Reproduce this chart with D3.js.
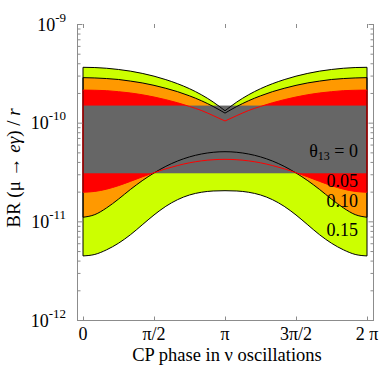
<!DOCTYPE html>
<html><head><meta charset="utf-8">
<script src="https://cdn.jsdelivr.net/npm/d3@7"></script>
<style>
html,body{margin:0;padding:0;background:#fff;}
svg{display:block;}
text{font-family:"Liberation Serif","Times New Roman",Times,serif;fill:#000;}
</style>
</head><body>
<svg id="c" width="382" height="382"></svg>
<script>
// CP phase (degrees) at which the curves were read
const phaseDeg = [0,15,30,45,60,75,90,105,120,135,150,165,180,195,210,225,240,255,270,285,300,315,330,345,360];

// theta13 = 0.15 band (yellow)
const upper015 = [3.64e-10,3.62e-10,3.56e-10,3.46e-10,3.33e-10,3.16e-10,2.96e-10,2.73e-10,2.48e-10,2.21e-10,1.92e-10,1.62e-10,1.32e-10,1.62e-10,1.92e-10,2.21e-10,2.48e-10,2.73e-10,2.96e-10,3.16e-10,3.33e-10,3.46e-10,3.56e-10,3.62e-10,3.64e-10];
const lower015 = [4.46e-12,4.62e-12,5.15e-12,6.0e-12,7.3e-12,9.2e-12,1.16e-11,1.42e-11,1.66e-11,1.85e-11,1.97e-11,2.03e-11,2.044e-11,2.03e-11,1.97e-11,1.85e-11,1.66e-11,1.42e-11,1.16e-11,9.2e-12,7.3e-12,6.0e-12,5.15e-12,4.62e-12,4.46e-12];
// theta13 = 0.10 band (orange)
const upper010 = [2.86e-10,2.84e-10,2.80e-10,2.74e-10,2.64e-10,2.53e-10,2.39e-10,2.23e-10,2.06e-10,1.87e-10,1.67e-10,1.46e-10,1.25e-10,1.46e-10,1.67e-10,1.87e-10,2.06e-10,2.23e-10,2.39e-10,2.53e-10,2.64e-10,2.74e-10,2.80e-10,2.84e-10,2.86e-10];
const lower010 = [1.10e-11,1.17e-11,1.37e-11,1.68e-11,2.10e-11,2.58e-11,3.09e-11,3.61e-11,4.09e-11,4.50e-11,4.81e-11,5.01e-11,5.08e-11,5.01e-11,4.81e-11,4.50e-11,4.09e-11,3.61e-11,3.09e-11,2.58e-11,2.10e-11,1.68e-11,1.37e-11,1.17e-11,1.10e-11];
// theta13 = 0.05 band (red)
const upper005 = [2.14e-10,2.13e-10,2.11e-10,2.06e-10,2.00e-10,1.92e-10,1.82e-10,1.71e-10,1.59e-10,1.46e-10,1.33e-10,1.18e-10,1.04e-10,1.18e-10,1.33e-10,1.46e-10,1.59e-10,1.71e-10,1.82e-10,1.92e-10,2.00e-10,2.06e-10,2.11e-10,2.13e-10,2.14e-10];
const lower005 = [1.97e-11,2.01e-11,2.12e-11,2.30e-11,2.54e-11,2.82e-11,3.11e-11,3.41e-11,3.68e-11,3.92e-11,4.10e-11,4.21e-11,4.25e-11,4.21e-11,4.10e-11,3.92e-11,3.68e-11,3.41e-11,3.11e-11,2.82e-11,2.54e-11,2.30e-11,2.12e-11,2.01e-11,1.97e-11];
// theta13 = 0 band (gray, phase independent)
const band0 = [3.07e-11, 1.49e-10];

const bandLabels = ["0.05","0.10","0.15"];
const bandLabelValues = [2.6e-11, 1.63e-11, 8.26e-12];
const band0LabelValue = 5.2e-11;
const xTickValues = [0, Math.PI/2, Math.PI, 3*Math.PI/2, 2*Math.PI];
const xTickLabels = ["0","\u03c0/2","\u03c0","3\u03c0/2","2 \u03c0"];
const yMajor = [1e-12,1e-11,1e-10,1e-9];
const yExponents = ["-12","-11","-10","-9"];

const svg = d3.select("#c");
const L = 77, R = 373, T = 24, B = 320;
const x = d3.scaleLinear().domain([0, 2*Math.PI]).range([83, 367]);
const y = d3.scaleLog().domain([1e-12, 1e-9]).range([B, T]);
const axisCol = "#8c8c8c";

function bandPath(lo, hi) {
  const pts = phaseDeg.map((d,i)=>({x: x(d*Math.PI/180), lo: y(lo[i]), hi: y(hi[i])}));
  const lower = d3.line().x(p=>p.x).y(p=>p.lo).curve(d3.curveMonotoneX)(pts);
  const rev = pts.slice().reverse();
  const mid = Math.floor(rev.length/2);
  const up = d3.line().x(p=>p.x).y(p=>p.hi).curve(d3.curveMonotoneX);
  const a = up(rev.slice(0, mid+1));
  const b = up(rev.slice(mid));
  return lower + "L" + a.slice(1) + "L" + b.slice(1) + "Z";
}

const bands = [
  {lo: lower015, hi: upper015, fill: "#ccff00", stroke: "#000"},
  {lo: lower010, hi: upper010, fill: "#ff9900", stroke: "#000"},
  {lo: lower005, hi: upper005, fill: "#ff0000", stroke: "#ff0000"}
];
bands.forEach(b => {
  svg.append("path").attr("d", bandPath(b.lo, b.hi)).attr("fill", b.fill).attr("stroke", "none");
});
svg.append("rect")
  .attr("x", x(0)).attr("width", x(2*Math.PI) - x(0))
  .attr("y", y(band0[1])).attr("height", y(band0[0]) - y(band0[1]))
  .attr("fill", "#666666");
bands.forEach(b => {
  svg.append("path").attr("d", bandPath(b.lo, b.hi)).attr("fill", "none")
    .attr("stroke", b.stroke).attr("stroke-width", 1).attr("stroke-linejoin", "round");
});

// frame
const frame = svg.append("g").attr("stroke", axisCol).attr("stroke-width", 1).attr("fill", "none");
frame.append("line").attr("x1", L+0.5).attr("x2", L+0.5).attr("y1", T).attr("y2", B);
frame.append("line").attr("x1", R+0.5).attr("x2", R+0.5).attr("y1", T).attr("y2", B);
frame.append("line").attr("x1", L).attr("x2", R+1).attr("y1", B+0.5).attr("y2", B+0.5);

// ticks via axes
function styleAxis(g) { g.select(".domain").remove(); g.selectAll("line").attr("stroke", axisCol); g.selectAll("text").remove(); }
const yMinor = y.ticks().filter(v => !yMajor.some(m => Math.abs(m - v) / m < 1e-6));
svg.append("g").attr("transform", `translate(${L+0.5},0)`)
  .call(d3.axisLeft(y).tickValues(yMajor).tickSizeInner(-5).tickSizeOuter(0)).call(styleAxis);
svg.append("g").attr("transform", `translate(${L+0.5},0)`)
  .call(d3.axisLeft(y).tickValues(yMinor).tickSizeInner(-3).tickSizeOuter(0)).call(styleAxis);
svg.append("g").attr("transform", `translate(${R+0.5},0)`)
  .call(d3.axisRight(y).tickValues(yMajor).tickSizeInner(-5).tickSizeOuter(0)).call(styleAxis);
svg.append("g").attr("transform", `translate(${R+0.5},0)`)
  .call(d3.axisRight(y).tickValues(yMinor).tickSizeInner(-3).tickSizeOuter(0)).call(styleAxis);
svg.append("g").attr("transform", `translate(0,${B+0.5})`)
  .call(d3.axisBottom(x).tickValues(xTickValues).tickSizeInner(-4).tickSizeOuter(0)).call(styleAxis);
svg.append("g").attr("transform", `translate(0,${T})`)
  .call(d3.axisTop(x).tickValues(xTickValues).tickSizeInner(-4).tickSizeOuter(0)).call(styleAxis);

// x tick labels
svg.append("g").selectAll("text").data(xTickValues).join("text")
  .attr("x", d => x(d)).attr("y", 340).attr("text-anchor", "middle")
  .attr("font-size", 18).text((d,i) => xTickLabels[i]);

// y tick labels
yMajor.forEach((v,i) => {
  const t = svg.append("text").attr("x", 66).attr("y", y(v) + 6.5)
    .attr("text-anchor", "end").attr("font-size", 18);
  t.append("tspan").text("10");
  t.append("tspan").attr("dy", -9).attr("font-size", 13).text(yExponents[i]);
});

// axis titles
svg.append("text").attr("x", 227).attr("y", 361).attr("text-anchor", "middle")
  .attr("font-size", 18.5).text("CP phase in \u03bd oscillations");
const yt = svg.append("text").attr("transform", "translate(20,168) rotate(-90)")
  .attr("text-anchor", "middle").attr("font-size", 19);
yt.append("tspan").text("BR (\u03bc \u2192 ");
yt.append("tspan").attr("font-style", "italic").text("e\u03b3");
yt.append("tspan").text(") / ");
yt.append("tspan").attr("font-style", "italic").text("r");

// band labels
const lab0 = svg.append("text").attr("x", 358).attr("y", y(band0LabelValue) + 6.5)
  .attr("text-anchor", "end").attr("font-size", 18);
lab0.append("tspan").text("\u03b8");
lab0.append("tspan").attr("font-size", 12).attr("dy", 3).text("13");
lab0.append("tspan").attr("dy", -3).text(" = 0");
svg.append("g").selectAll("text").data(bandLabels).join("text")
  .attr("x", 358).attr("y", (d,i) => y(bandLabelValues[i]) + 6.5)
  .attr("text-anchor", "end").attr("font-size", 18).text(d => d);
</script>
</body></html>
